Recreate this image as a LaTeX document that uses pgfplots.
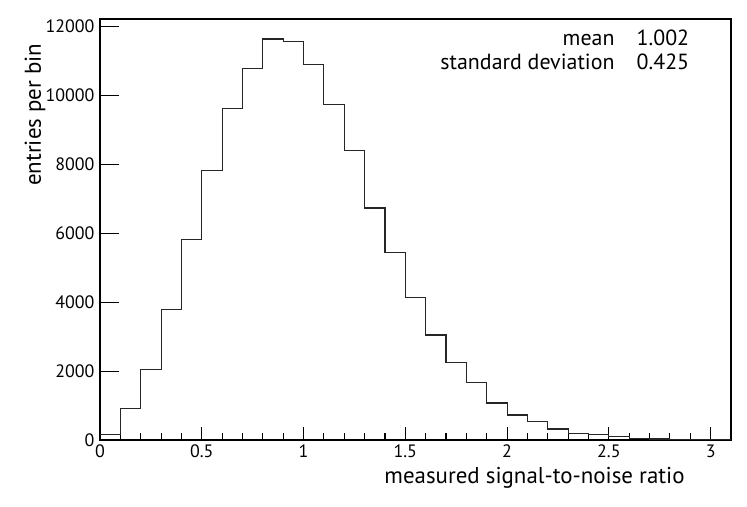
\documentclass[border=0pt]{standalone}
\usepackage{pgfplots}
\pgfplotsset{compat=1.18}
\usetikzlibrary{calc}
\usepackage{fontspec}
\setmainfont{PT Sans}
\begin{document}
\begin{tikzpicture}
\begin{axis}[
  scale only axis,
  width=631bp, height=421bp,
  xmin=0, xmax=3.1, ymin=0, ymax=12220,
  axis line style={line width=1.8bp, black},
  xtick={0,0.5,...,3}, minor x tick num=4,
  xticklabels={0,0.5,1,1.5,2,2.5,3},
  xtick pos=bottom, ytick pos=left,
  ytick=\empty,
  extra y ticks={0,2000,4000,6000,8000,10000,12000},
  extra y tick labels={0,2000,4000,6000,8000,10000,12000},
  extra y tick style={major tick length=19bp, ytick pos=left},
  tick align=inside,
  major tick length=13bp, minor tick length=7bp,
  tick style={line width=1.1bp, black},
  /pgf/number format/assume math mode=true,
  tick label style={font=\fontsize{18}{20}\selectfont},
  xticklabel style={yshift=-1bp},
  yticklabel style={xshift=-2bp},
  scaled y ticks=false,
  xlabel={measured signal-to-noise ratio},
  ylabel={entries per bin},
  label style={font=\fontsize{23}{27}\selectfont},
  xlabel style={at={(rel axis cs:0.932,-0.09)}, anchor=east},
  ylabel style={at={(rel axis cs:-0.103,0.95)}, anchor=east, rotate=0},
  clip=false,
]
\addplot[const plot, line width=1.1bp, black!85] coordinates {
(0.0,150) (0.1,920) (0.2,2040) (0.3,3780) (0.4,5830) (0.5,7830)
(0.6,9610) (0.7,10790) (0.8,11640) (0.9,11560) (1.0,10910) (1.1,9740)
(1.2,8400) (1.3,6735) (1.4,5435) (1.5,4130) (1.6,3048) (1.7,2245)
(1.8,1664) (1.9,1074) (2.0,726) (2.1,532) (2.2,319) (2.3,194)
(2.4,155) (2.5,97) (2.6,50) (2.7,30) (2.8,20) (2.9,10) (3.0,5) (3.1,5)
};
\node[anchor=base east, font=\fontsize{22}{25}\selectfont] at (rel axis cs:0.821,0.936) {mean};
\node[anchor=base west, font=\fontsize{22}{25}\selectfont] at (rel axis cs:0.845,0.936) {1.002};
\node[anchor=base east, font=\fontsize{22}{25}\selectfont] at (rel axis cs:0.821,0.881) {standard deviation};
\node[anchor=base west, font=\fontsize{22}{25}\selectfont] at (rel axis cs:0.845,0.881) {0.425};
\end{axis}
\path ($(current axis.south west)+(-100bp,-67bp)$) rectangle ($(current axis.north east)+(16bp,19bp)$);
\end{tikzpicture}
\end{document}
